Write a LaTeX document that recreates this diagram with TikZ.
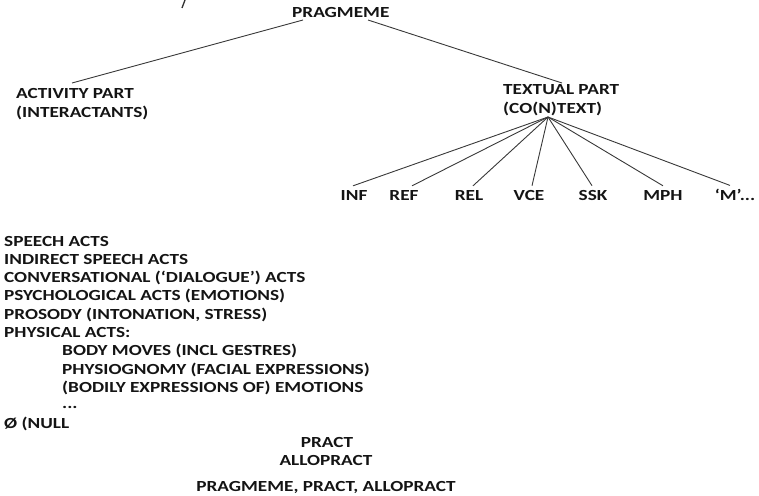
\documentclass[tikz,border=0pt]{standalone}
\usepackage{fontspec}
\setmainfont{Carlito}[FakeStretch=1.25]
\begin{document}
\begin{tikzpicture}[x=1pt,y=-1pt,
  lab/.style={font=\bfseries\fontsize{15.4}{18}\selectfont, inner sep=0pt, anchor=base west, text=black!92},
  kid/.style={lab, anchor=base, inner ysep=4pt},
  edge/.style={draw=black!78, line width=0.9pt}]
\useasboundingbox (0,0) rectangle (759,495);
% stray fragment at top
\draw[line width=1.3pt, black!80] (182,8) -- (185,0);
% top level
\node[lab] (prag) at (292,18) {PRAGMEME};
\node[lab] (act) at (16,98) {ACTIVITY PART};
\node[lab] (inter) at (16,117) {(INTERACTANTS)};
\node[lab] (textual) at (503,94) {TEXTUAL PART};
\node[lab] (context) at (503,113) {(CO(N)TEXT)};
\coordinate (pragL) at (303,20);
\coordinate (pragR) at (368,20);
\coordinate (actT) at (72,83);
\coordinate (texT) at (562,83);
\coordinate (fan) at (548,117);
\draw[edge] (pragL) -- (actT);
\draw[edge] (pragR) -- (texT);
% children
\node[kid] (inf) at (354,200) {INF};
\node[kid] (ref) at (404,200) {REF};
\node[kid] (rel) at (469,200) {REL};
\node[kid] (vce) at (529,200) {VCE};
\node[kid] (ssk) at (593,200) {SSK};
\node[kid] (mph) at (663,200) {MPH};
\node[kid] (mm) at (735,200) {‘M’...};
\draw[edge] (fan) -- ([xshift=-1pt]inf.north);
\draw[edge] (fan) -- ([xshift=8pt]ref.north);
\draw[edge] (fan) -- ([xshift=4pt]rel.north);
\draw[edge] (fan) -- ([xshift=3pt]vce.north);
\draw[edge] (fan) -- ([xshift=-1pt]ssk.north);
\draw[edge] (fan) -- (mph.north);
\draw[edge] (fan) -- ([xshift=-5pt,yshift=-1pt]mm.north);
% list
\node[lab] (l1) at (4,246) {SPEECH ACTS};
\node[lab] (l2) at (4,264.3) {INDIRECT SPEECH ACTS};
\node[lab] (l3) at (4,282.6) {CONVERSATIONAL (‘DIALOGUE’) ACTS};
\node[lab] (l4) at (4,300.9) {PSYCHOLOGICAL ACTS (EMOTIONS)};
\node[lab] (l5) at (4,319.2) {PROSODY (INTONATION, STRESS)};
\node[lab] (l6) at (4,337.5) {PHYSICAL ACTS:};
\node[lab] (l7) at (62,355.8) {BODY MOVES (INCL GESTRES)};
\node[lab] (l8) at (62,374.1) {PHYSIOGNOMY (FACIAL EXPRESSIONS)};
\node[lab] (l9) at (62,392.4) {(BODILY EXPRESSIONS OF) EMOTIONS};
\node[lab] (l10) at (62,408.5) {...};
\node[lab] (l11) at (4,428) {Ø (NULL};
% bottom
\node[lab, anchor=base] (pract) at (327,447) {PRACT};
\node[lab, anchor=base] (allo) at (326,465) {ALLOPRACT};
\node[lab, anchor=base] (all3) at (326,491) {PRAGMEME, PRACT, ALLOPRACT};
\end{tikzpicture}
\end{document}
